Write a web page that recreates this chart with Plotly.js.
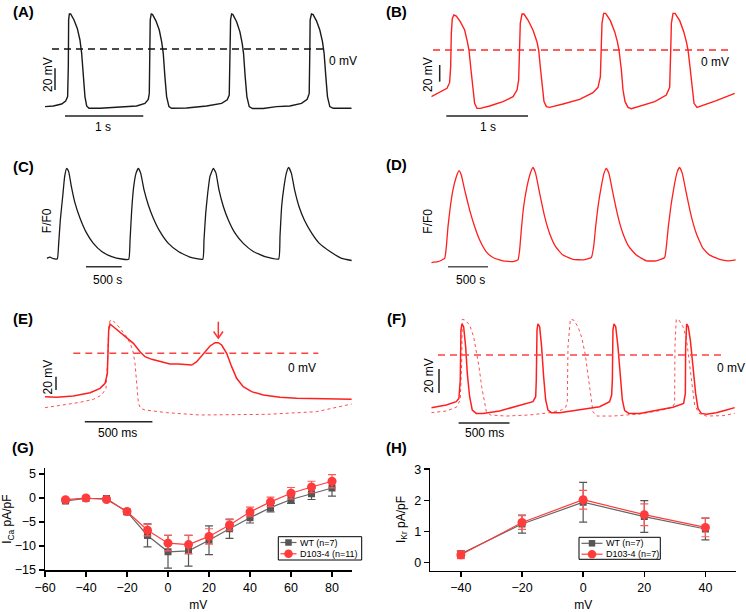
<!DOCTYPE html>
<html><head><meta charset="utf-8">
<script src="https://cdn.plot.ly/plotly-3.0.1.min.js"></script>
<style>html,body{margin:0;padding:0;background:#fff}</style>
</head><body><div id="chart" style="width:746px;height:612px"></div>
<script>
// ---------- (A) WT action potentials: time (ms), membrane potential (mV)
const apA_t = [0,107,213,265,290,299,303,312,329,372,414,448,470,491,512,534,564,705,961,1174,1281,1324,1337,1345,1349,1362,1379,1422,1465,1495,1516,1537,1559,1589,1623,1815,2071,2264,2336,2362,2375,2379,2392,2409,2456,2498,2528,2545,2566,2588,2618,2660,2797,2904,2968,3139,3288,3361,3387,3395,3399,3416,3437,3480,3523,3557,3578,3600,3621,3651,3694,3929];
const apA_v = [-53.2,-52.6,-50.8,-48,-44,-16,27,32.3,32.3,26.8,19,8.3,-4,-25.5,-44,-52.6,-54.8,-54.8,-53.8,-52.6,-50.2,-46.5,-41,-1,27,32.3,31.7,26,17.5,6.8,-4,-25.5,-44,-53.2,-54.8,-54.5,-52.6,-50.2,-47,-42.5,-1,27,32.3,31.7,25.2,16,5.2,-4,-25.5,-44,-53.2,-55,-55,-53.8,-53.2,-52.6,-50.2,-46.5,-41,-1,27,32.3,31.7,26,17.5,6.8,-4,-25.5,-44,-53.2,-54.8,-54.8];
// ---------- (B) D103-4 action potentials
const apB_t = [0,61,122,192,224,237,245,257,277,306,355,408,441,461,486,510,530,559,600,714,877,1000,1049,1069,1081,1089,1110,1134,1183,1244,1293,1314,1338,1359,1379,1408,1448,1612,1816,1979,2040,2069,2081,2089,2109,2134,2191,2244,2277,2297,2326,2346,2371,2407,2448,2550,2734,2876,2917,2930,2938,2958,2983,3040,3089,3121,3142,3170,3195,3215,3252,3305,3488,3713];
const apB_v = [-56,-52.8,-50,-46,-39.2,-20,20,38,42,40.8,34,24,10,0,-24,-50,-64,-70,-70,-67.2,-62,-56,-48,-36,0,32,43.2,43.2,36,24,10,0,-24,-48,-62,-68,-68.8,-64.8,-59.2,-51.2,-44.8,-32,0,32,44,44,35.2,22,10,0,-24,-48,-62,-68.8,-70.4,-67.2,-62,-54,-44.8,0,32,44,44,35.2,22,10,0,-24,-50,-64,-68.8,-67.2,-60.8,-52];
// ---------- (C) WT calcium transients: time (ms), F/F0
const caC_t = [0,47,93,149,168,191,224,252,280,308,346,397,467,560,654,771,911,1051,1149,1168,1191,1219,1252,1284,1317,1364,1424,1494,1588,1705,1845,2008,2186,2204,2228,2256,2288,2335,2372,2414,2475,2545,2639,2755,2895,3059,3250,3269,3292,3325,3358,3390,3428,3474,3535,3610,3713,3820,3970,4133,4273];
const caC_f = [1.03,1.07,1.02,1.02,1.53,2.31,3.09,3.76,4.03,3.92,3.42,2.87,2.37,1.87,1.53,1.26,1.09,1.01,1.0,1.64,2.64,3.42,3.87,4.03,3.87,3.31,2.81,2.37,1.92,1.53,1.26,1.07,1.0,1.64,2.53,3.2,3.76,4.03,3.87,3.31,2.76,2.31,1.87,1.53,1.26,1.09,1.01,1.76,2.76,3.42,3.87,4.06,3.87,3.31,2.76,2.31,1.87,1.53,1.26,1.03,0.96];
// ---------- (D) D103-4 calcium transients
const caD_t = [0,83,167,188,209,238,271,313,346,375,417,480,542,605,688,771,897,1022,1084,1105,1126,1155,1197,1238,1272,1305,1355,1418,1480,1555,1647,1772,1897,2002,2031,2056,2085,2126,2160,2189,2222,2272,2335,2397,2472,2564,2689,2814,2919,2940,2965,3002,3044,3077,3106,3140,3190,3253,3315,3399,3482,3607,3711,3807];
const caD_f = [0.97,1.0,1.11,1.5,2.17,2.83,3.39,3.83,4.03,3.89,3.39,2.72,2.17,1.72,1.33,1.14,1.03,1.0,1.06,1.39,2.06,2.83,3.5,3.94,4.14,3.94,3.28,2.5,1.94,1.5,1.22,1.08,1.06,1.14,1.5,2.17,2.83,3.5,3.94,4.11,3.94,3.28,2.5,1.94,1.5,1.22,1.03,1.03,1.14,1.5,2.17,2.94,3.61,4.0,4.14,3.94,3.28,2.5,1.94,1.44,1.22,1.08,1.03,1.06];
// ---------- (E) EAD trace (solid) and normal AP (dotted)
const apE_t = [0,86,210,334,408,445,462,467,472,482,506,544,593,655,704,741,791,852,926,988,1050,1087,1124,1173,1223,1260,1284,1309,1346,1383,1420,1469,1531,1618,1741,1865,2062,2272];
const apE_v = [-65,-66,-64,-59,-52.5,-45,-30,5,35,44,40,34,26,15,2.5,-5,-9,-12.5,-16,-16,-17.5,-17.5,-12.5,0,11,16,16,12.5,0,-20,-37.5,-50,-57.5,-62.5,-66,-67.5,-68.5,-69];
const apE2_t = [0,136,259,358,420,452,464,472,482,496,519,556,605,630,650,667,679,692,709,741,902,1149,1643,2013,2272];
const apE2_v = [-81.5,-77.5,-73.5,-69,-62.5,-52.5,-10,40,49,50,46,37.5,25,15,5,-15,-50,-75,-82.5,-85,-89,-92.5,-91.5,-87.5,-76];
// ---------- (F) solid and dotted AP trains
const apF_t = [0,147,245,271,284,291,301,317,337,353,376,402,441,507,670,834,997,1024,1030,1037,1046,1063,1082,1102,1122,1145,1177,1259,1455,1651,1749,1769,1776,1782,1792,1809,1831,1854,1874,1897,1939,2044,2207,2371,2475,2492,2495,2505,2521,2541,2567,2593,2616,2649,2698,2796,2894,2976];
const apF_v = [-43.9,-41.7,-38.9,-36.1,-20.9,20.9,25.9,23.6,7,-15.3,-34.8,-45.9,-48.7,-48.7,-46.7,-43.1,-38.9,-34.8,-20.9,20.9,25.9,23.6,7,-18.1,-37.5,-45.9,-48.1,-48.1,-45.9,-43.1,-38.9,-33.4,-20.9,20.9,25.9,23.6,7,-18.1,-37.5,-46.4,-48.7,-48.7,-45.9,-43.6,-40.3,-32,7,25.9,23.6,12.5,-9.7,-32,-44.5,-48.7,-49.5,-48.1,-45.9,-43.9];
const apF2_t = [0,147,245,284,298,304,330,376,415,441,468,494,520,540,579,736,965,1161,1275,1318,1334,1341,1364,1396,1439,1478,1511,1537,1560,1586,1625,1782,2044,2240,2364,2387,2390,2403,2429,2469,2502,2528,2554,2583,2626,2698,2861,2976];
const apF2_v = [-48.1,-46.7,-43.6,-37.5,-7,29.7,29.2,25,15.3,4.2,-9.7,-26.4,-40.3,-47.3,-50,-50.9,-50,-48.1,-45.9,-43.6,-38.9,7,29.7,29.2,23.6,13.9,0,-16.7,-34.8,-47.3,-50.9,-50.9,-49.2,-46.4,-43.6,-40.3,7,29.7,29.2,23.6,13.9,-4.2,-26.4,-41.7,-48.7,-50.9,-50.6,-48.7];
// ---------- (G) I_Ca I-V
const vG = [-50,-40,-30,-20,-10,0,10,20,30,40,50,60,70,80];
const icaWT = [-0.6,-0.1,-0.1,-2.9,-7.8,-11.2,-11.0,-8.8,-6.4,-4.1,-2.0,-0.3,0.9,2.1];
const icaWTerr = [0.2,0.2,0.2,0.5,2.4,3.4,3.2,3.0,2.0,1.1,0.9,0.8,1.2,1.7];
const icaD = [-0.35,0.0,-0.3,-2.8,-6.7,-9.4,-9.7,-8.0,-5.6,-2.9,-0.8,1.0,2.3,3.5];
const icaDerr = [0.2,0.2,0.2,0.5,1.2,1.6,1.9,1.6,1.1,1.0,1.0,1.2,1.2,1.4];
// ---------- (H) I_Kr I-V
const vH = [-40,-20,0,20,40];
const ikrWT = [0.28,1.24,1.94,1.48,1.08];
const ikrWTerr = [0.1,0.29,0.64,0.51,0.35];
const ikrD = [0.25,1.29,2.02,1.54,1.13];
const ikrDerr = [0.12,0.22,0.3,0.35,0.3];
const legendG = ['WT (n=7)','D103-4 (n=11)'];
const legendH = ['WT (n=7)','D103-4 (n=7)'];

const W=746, H=612;
const px = p => p/W, py = p => 1 - p/H;
const FONT = '"Liberation Sans", Arial, Helvetica, sans-serif';
const RED = '#ff1f1f', RED2 = '#ff4d4d', BLK = '#1a1a1a';
const WTC = '#555555', DC = '#ff3b3b';

function hid(x0,x1,r){ return {domain:[px(x0),px(x1)], range:r, visible:false, fixedrange:true}; }
function hidY(y0,y1,r){ return {domain:[py(y1),py(y0)], range:r, visible:false, fixedrange:true}; }
const axStyle = {showline:true, linecolor:'#000', linewidth:1.5, ticks:'outside', ticklen:5, tickwidth:1.5, tickcolor:'#000',
  showgrid:false, zeroline:false, fixedrange:true, tickfont:{family:FONT, size:12.5, color:'#000'}};
const titleFont = {family:FONT, size:12, color:'#000'};

function tr(x,y,xa,ya,color,width,dash,smooth){
  const line = {color:color, width:width, dash:dash||'solid'};
  if (smooth) { line.shape = 'spline'; line.smoothing = smooth; }
  return {x:x, y:y, xaxis:xa, yaxis:ya, mode:'lines', line:line, showlegend:false, hoverinfo:'skip'};
}
function iv(x,y,err,xa,ya,name,isWT){
  return {x:x, y:y, xaxis:xa, yaxis:ya, mode:'lines+markers', name:name, showlegend:false, hoverinfo:'skip',
    line:{color:isWT?'#666':DC, width:1.2},
    marker:isWT?{symbol:'square', size:7, color:WTC}:{symbol:'circle', size:9, color:DC},
    error_y:{type:'data', array:err, visible:true, color:isWT?'#555':'#ff5a5a', thickness:1.2, width:4}};
}

const data = [
  tr(apA_t, apA_v, 'x','y', BLK, 1.4),
  tr(apB_t, apB_v, 'x2','y2', RED, 1.4),
  tr(caC_t, caC_f, 'x3','y3', BLK, 1.3, null, 0.4),
  tr(caD_t, caD_f, 'x4','y4', RED, 1.3, null, 0.4),
  tr(apE2_t, apE2_v, 'x5','y5', RED2, 1, 'dot'),
  tr(apE_t, apE_v, 'x5','y5', RED, 1.5),
  tr(apF2_t, apF2_v, 'x6','y6', RED2, 1, 'dot'),
  tr(apF_t, apF_v, 'x6','y6', RED, 1.5),
  iv(vG, icaWT, icaWTerr, 'x7','y7', legendG[0], true),
  iv(vG, icaD, icaDerr, 'x7','y7', legendG[1], false),
  iv(vH, ikrWT, ikrWTerr, 'x8','y8', legendH[0], true),
  iv(vH, ikrD, ikrDerr, 'x8','y8', legendH[1], false)
];

function txt(t,x,y,opt){
  return Object.assign({text:t, x:px(x), y:py(y), xref:'paper', yref:'paper', showarrow:false,
    xanchor:'center', yanchor:'middle', font:{family:FONT, size:12, color:'#000'}}, opt||{});
}
function lab(t,x,y){ return txt('<b>'+t+'</b>', x, y, {font:{family:FONT, size:15, color:'#000'}}); }
function rot(t,x,y){ return txt(t,x,y,{textangle:-90}); }
function legTxt(t,x,y){ return txt(t,x,y,{xanchor:'left', font:{family:FONT, size:9, color:'#000'}}); }

const annotations = [
  lab('(A)',23,11), lab('(B)',396,11), lab('(C)',23,167), lab('(D)',396,165),
  lab('(E)',23,318), lab('(F)',396,318), lab('(G)',23,447), lab('(H)',396,447),
  txt('0 mV',343,61), rot('20 mV',48,75), txt('1 s',103,127),
  txt('0 mV',715,62), rot('20 mV',428,75), txt('1 s',488,127),
  rot('F/F0',46.7,220.5), txt('500 s',107,280),
  rot('F/F0',428,221.7), txt('500 s',470,280),
  txt('0 mV',302,368), rot('20 mV',47.7,376.7), txt('500 ms',117,433),
  txt('0 mV',731,367.5), rot('20 mV',429,376), txt('500 ms',484,433),
  legTxt(legendG[0],297.5,542.5), legTxt(legendG[1],297.5,553.8),
  legTxt(legendH[0],603.5,543.3), legTxt(legendH[1],603.5,554.2)
];

function seg(x0,y0,x1,y1,color,w){ return {type:'line', xref:'paper', yref:'paper', x0:px(x0), x1:px(x1), y0:py(y0), y1:py(y1), line:{color:color||'#222', width:w||1.5}}; }
function hline(x0,x1,y,color){ return seg(x0,y,x1,y,color); }
function vline(x,y0,y1,color){ return seg(x,y0,x,y1,color); }
function zero(x0,x1,yref,color){ return {type:'line', xref:'paper', yref:yref, x0:px(x0), x1:px(x1), y0:0, y1:0, line:{color:color, width:1.5, dash:'7px,5px'}}; }
function box(x0,y0,x1,y1){ return {type:'rect', xref:'paper', yref:'paper', x0:px(x0), x1:px(x1), y0:py(y1), y1:py(y0), line:{color:'#000', width:1}, fillcolor:'#fff', layer:'above'}; }
function sq(cx,cy,s,color){ return {type:'rect', xref:'paper', yref:'paper', x0:px(cx-s/2), x1:px(cx+s/2), y0:py(cy+s/2), y1:py(cy-s/2), line:{width:0}, fillcolor:color, layer:'above'}; }
function circ(cx,cy,r,color){ return {type:'circle', xref:'paper', yref:'paper', x0:px(cx-r), x1:px(cx+r), y0:py(cy+r), y1:py(cy-r), line:{width:0}, fillcolor:color, layer:'above'}; }
function legLine(x0,x1,y,color){ return Object.assign(seg(x0,y,x1,y,color,1.2), {layer:'above'}); }
function arrowPath(pts,color){
  const d = pts.map((p,i)=>(i?'L':'M')+px(p[0])+','+py(p[1])).join(' ');
  return {type:'path', xref:'paper', yref:'paper', path:d, line:{color:color, width:1.5}};
}

const shapes = [
  zero(52,325,'y','#111'), vline(55,68.3,90), hline(65,143.3,116),
  zero(433,731.3,'y2','#ff2a2a'), vline(439.7,65,81.7), hline(446.3,528,116),
  hline(86,121.7,266.7,'#333'), hline(448,488,266.7,'#555'),
  zero(73.3,318.3,'y5','#ff4040'), vline(56,376.7,390), hline(84.8,152.4,421.7),
  zero(438,723,'y6','#ff4040'), vline(439,369,393), hline(458.6,509.5,423),
  // arrow marking the EAD in (E)
  vline(218.3,321.7,338,'#ff3333'),
  arrowPath([[213.6,331.5],[218.3,338.3],[223,331.5]],'#ff3333'),
  // legend (G)
  box(278.3,536.7,361.7,560),
  legLine(280.5,296.5,542.5,'#666'), sq(288.5,542.5,6.5,WTC),
  legLine(280.5,296.5,553.8,DC), circ(288.5,553.8,4.3,DC),
  // legend (H)
  box(579,537.3,660.3,559.3),
  legLine(581.5,602.5,543.3,'#666'), sq(592,543.3,6.5,WTC),
  legLine(581.5,602.5,554.2,DC), circ(592,554.2,4.3,DC)
];

const layout = {
  width:W, height:H, margin:{l:0,r:0,t:0,b:0}, paper_bgcolor:'#fff', plot_bgcolor:'rgba(0,0,0,0)', showlegend:false,
  xaxis: hid(45,355,[0,3974]), yaxis: hidY(5,125,[-70.2,40.6]),
  xaxis2: hid(431.3,741,[0,3790]), yaxis2: hidY(5,125,[-90,54]),
  xaxis3: hid(46.7,355,[0,4320]), yaxis3: hidY(150,265,[0.81,4.64]),
  xaxis4: hid(431.3,741,[0,3874]), yaxis4: hidY(150,265,[0.89,4.72]),
  xaxis5: hid(45,355,[0,2297]), yaxis5: hidY(305,420,[-100,72.5]),
  xaxis6: hid(431.3,741,[0,3038]), yaxis6: hidY(305,420,[-54.2,41.7]),
  xaxis7: Object.assign({}, axStyle, {domain:[px(45),px(351.7)], range:[-60,89.6], tickvals:[-60,-40,-20,0,20,40,60,80], anchor:'y7',
    title:{text:'mV', font:titleFont, standoff:9}}),
  yaxis7: Object.assign({}, axStyle, {domain:[py(570),py(468.3)], range:[-15,6.2], tickvals:[-15,-10,-5,0,5], anchor:'x7',
    title:{text:'I<sub>Ca</sub> pA/pF', font:titleFont, standoff:4}}),
  xaxis8: Object.assign({}, axStyle, {domain:[px(430.3),px(736.3)], range:[-50,50.1], tickvals:[-40,-20,0,20,40], anchor:'y8',
    title:{text:'mV', font:titleFont, standoff:9}}),
  yaxis8: Object.assign({}, axStyle, {domain:[py(570.7),py(468.3)], range:[-0.26,3.03], tickvals:[0,1,2,3], anchor:'x8',
    title:{text:'I<sub>Kr</sub> pA/pF', font:titleFont, standoff:6}}),
  annotations: annotations, shapes: shapes
};
['xaxis','xaxis2','xaxis3','xaxis4','xaxis5','xaxis6'].forEach((k,i)=>{ layout[k].anchor = i===0?'y':'y'+(i+1); });
['yaxis','yaxis2','yaxis3','yaxis4','yaxis5','yaxis6'].forEach((k,i)=>{ layout[k].anchor = i===0?'x':'x'+(i+1); });

Plotly.newPlot('chart', data, layout, {staticPlot:true, displayModeBar:false});
</script></body></html>
